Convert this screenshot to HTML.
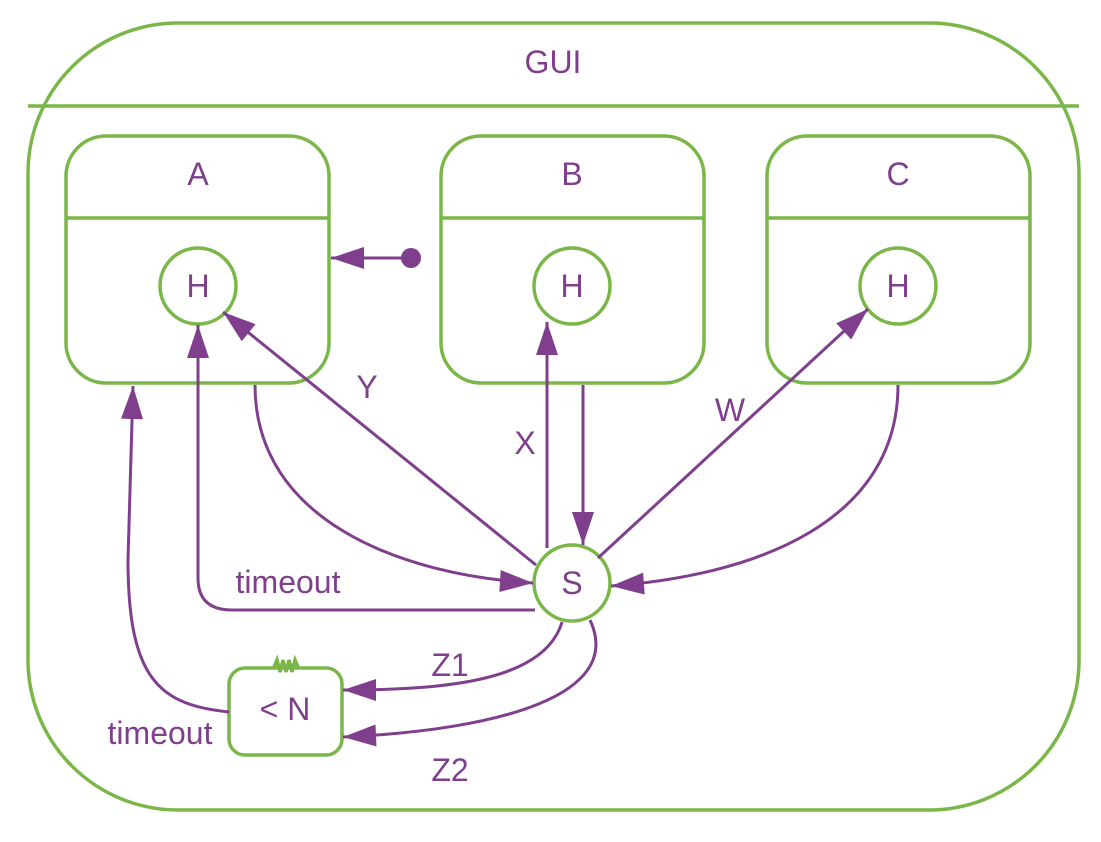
<!DOCTYPE html>
<html><head><meta charset="utf-8"><style>
html,body{margin:0;padding:0;background:#fff;}
svg{display:block;font-family:"Liberation Sans",sans-serif;}
text{fill:#7f3f8c;font-size:32px;text-anchor:middle;dominant-baseline:central;}
.g{fill:none;stroke:#7ab648;stroke-width:3.5;}
.p{fill:none;stroke:#7f3f8c;stroke-width:3;}
</style></head><body>
<svg width="1101" height="842" viewBox="0 0 1101 842">
<defs>
<marker id="ah" markerWidth="12" markerHeight="8" refX="11" refY="4" orient="auto" markerUnits="userSpaceOnUse" viewBox="0 0 12 8" style="overflow:visible">
<path d="M-22,-7 L11,4 L-22,15 Z" fill="#7f3f8c"/>
</marker>
</defs>
<g>
<rect class="g" x="28" y="23" width="1051" height="787" rx="150"/>
<line class="g" x1="28" y1="106" x2="1079" y2="106"/>
<text x="553" y="62">GUI</text>
</g>
<g>
<rect class="g" x="66" y="136" width="263" height="247" rx="40"/>
<line class="g" x1="66" y1="218" x2="329" y2="218"/>
<text x="198" y="174">A</text>
<circle class="g" cx="198" cy="286" r="38"/><text x="198" y="286">H</text>
</g>
<g>
<rect class="g" x="441" y="136" width="263" height="247" rx="40"/>
<line class="g" x1="441" y1="218" x2="704" y2="218"/>
<text x="572" y="174">B</text>
<circle class="g" cx="572" cy="286" r="38"/><text x="572" y="286">H</text>
</g>
<g>
<rect class="g" x="767" y="136" width="263" height="247" rx="40"/>
<line class="g" x1="767" y1="218" x2="1030" y2="218"/>
<text x="898" y="174">C</text>
<circle class="g" cx="898" cy="286" r="38"/><text x="898" y="286">H</text>
</g>
<g>
<circle class="g" cx="572" cy="583" r="38"/><text x="572" y="583">S</text>
</g>
<g>
<rect class="g" x="229" y="668" width="113" height="87" rx="16"/>
<polyline class="g" stroke-width="2" points="274,667 277,660 280,672 283,660 286,672 289,660 292,672 295,660 298,667"/>
<text x="285" y="709">&lt; N</text>
</g>
<g>
<circle cx="411" cy="258" r="10" fill="#7f3f8c"/>
<path class="p" d="M411,258 H331" marker-end="url(#ah)"/>
<path class="p" d="M535,610 H232 Q198,610 198,578 V325" marker-end="url(#ah)"/>
<path class="p" d="M536,565 L223,312" marker-end="url(#ah)"/>
<path class="p" d="M255,385 C255,520 400,575 533,583" marker-end="url(#ah)"/>
<path class="p" d="M547,548 V322" marker-end="url(#ah)"/>
<path class="p" d="M583,385 V545" marker-end="url(#ah)"/>
<path class="p" d="M598,558 L868,309" marker-end="url(#ah)"/>
<path class="p" d="M898,385 C898,520 760,575 611,586" marker-end="url(#ah)"/>
<path class="p" d="M562,622 C545,680 450,690 343,690" marker-end="url(#ah)"/>
<path class="p" d="M590,620 C625,695 500,730 343,737" marker-end="url(#ah)"/>
<path class="p" d="M229,712 C160,705 128,680 128,560 L133,386" marker-end="url(#ah)"/>
</g>
<g>
<text x="367" y="387">Y</text>
<text x="525" y="443">X</text>
<text x="730" y="410">W</text>
<text x="288" y="582">timeout</text>
<text x="160" y="733">timeout</text>
<text x="450" y="665">Z1</text>
<text x="450" y="770">Z2</text>
</g>
</svg>
</body></html>
